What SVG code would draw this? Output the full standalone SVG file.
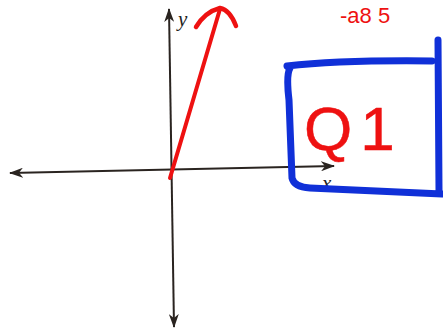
<svg xmlns="http://www.w3.org/2000/svg" width="443" height="329" viewBox="0 0 443 329">
<style>
.axis{stroke:#2a2420;stroke-width:2;fill:none}
.red{stroke:#ee1111;fill:none;stroke-linecap:round;stroke-linejoin:round}
.lbl{font-family:"Liberation Serif",serif;font-style:italic;font-size:21px;fill:#222}
.redtxt{font-family:"Liberation Sans",sans-serif;fill:#ee1111}
</style>
<defs>
<marker id="ah" viewBox="0 0 14 10" refX="13" refY="5" markerWidth="14" markerHeight="10" markerUnits="userSpaceOnUse" orient="auto-start-reverse">
<path d="M0,0 L14,5 L0,10 L4,5 Z" fill="#2a2420"/>
</marker>
</defs>
<rect width="443" height="329" fill="#fff"/>
<g id="axes">
<line class="axis" x1="10" y1="173" x2="334" y2="166" marker-start="url(#ah)" marker-end="url(#ah)"/>
<line class="axis" x1="169" y1="9" x2="174" y2="327" marker-start="url(#ah)" marker-end="url(#ah)"/>
<text class="lbl" x="178" y="26">y</text>
<text class="lbl" x="322" y="190">x</text>
</g>
<g id="vector">
<path class="red" stroke-width="4" d="M170,178 L220,9"/>
<path class="red" stroke-width="4.5" d="M196,27 Q205,12 220,8 Q230,10 236,26"/>
</g>
<g id="box">
<path d="M287,66 Q340,60 432,61 M438,40 L439,190 M290,68 Q286,75 289,100 L292,178 Q294,187 310,188 L442,194" fill="none" stroke="#1030d8" stroke-width="7" stroke-linecap="round" stroke-linejoin="round"/>
<text class="redtxt" x="304" y="150" font-size="62" letter-spacing="8" stroke="#ee1111" stroke-width="0.5">Q1</text>
</g>
<g id="note">
<text class="redtxt" x="340" y="23" font-size="22">-a8 5</text>
</g>
</svg>
